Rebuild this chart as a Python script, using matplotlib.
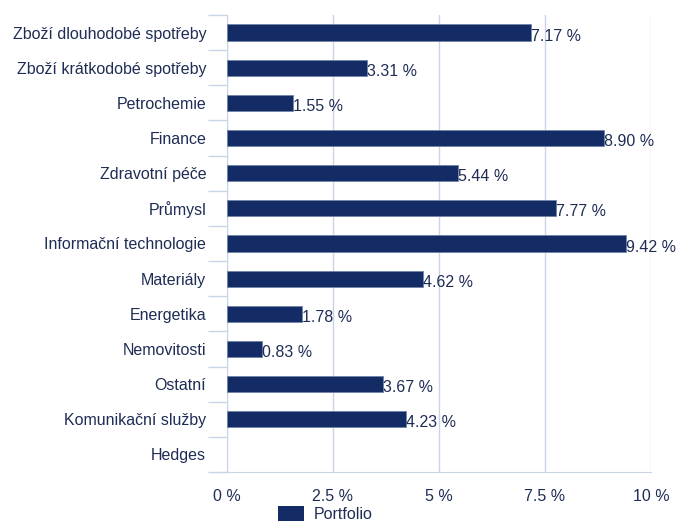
import matplotlib
matplotlib.use("Agg")
import matplotlib.pyplot as plt
from matplotlib.patches import Patch

plt.rcParams['font.family'] = ['Liberation Sans', 'DejaVu Sans']

# ── Data ─────────────────────────────────────────────────────────────
SECTORS = [
    "Zboží dlouhodobé spotřeby",
    "Zboží krátkodobé spotřeby",
    "Petrochemie",
    "Finance",
    "Zdravotní péče",
    "Průmysl",
    "Informační technologie",
    "Materiály",
    "Energetika",
    "Nemovitosti",
    "Ostatní",
    "Komunikační služby",
    "Hedges",
]
WEIGHTS = [7.17, 3.31, 1.55, 8.90, 5.44, 7.77, 9.42, 4.62, 1.78, 0.83, 3.67, 4.23, None]
X_TICKS = [0, 2.5, 5, 7.5, 10]
X_TICK_LABELS = ["0 %", "2.5 %", "5 %", "7.5 %", "10 %"]

BAR_COLOR = "#142c66"
TEXT_COLOR = "#1f2d55"
GRID_COLOR = "#c9d5e7"
FS = 11.5

fig = plt.figure(figsize=(6.78, 5.25), dpi=100)
ax = fig.add_axes([227/678, 1 - 472/525, (651 - 227)/678, (472 - 15)/525])

n = len(SECTORS)
ys = list(range(n))
for y, v in zip(ys, WEIGHTS):
    if v is None:
        continue
    ax.barh(y, v, height=0.46, color=BAR_COLOR, edgecolor="#6f84a8",
            linewidth=0.6, zorder=3)
    ax.text(v, y + 0.1, f"{v:.2f} %", ha="left", va="center",
            fontsize=FS, color=TEXT_COLOR, zorder=4)

ax.set_ylim(n - 0.5, -0.5)
ax.set_xlim(0, 10)
ax.set_yticks(ys)
ax.set_yticklabels(SECTORS, fontsize=FS, color=TEXT_COLOR)
ax.set_yticks([i - 0.5 for i in range(n + 1)], minor=True)
ax.tick_params(axis="y", which="major", length=0, pad=15)
ax.tick_params(axis="y", which="minor", length=14, color=GRID_COLOR, width=1)

ax.set_xticks(X_TICKS)
ax.set_xticklabels(X_TICK_LABELS, fontsize=FS, color=TEXT_COLOR)
ax.tick_params(axis="x", length=0, pad=12)

ax.grid(axis="x", color=GRID_COLOR, lw=1, zorder=0)
for side in ["top", "right"]:
    ax.spines[side].set_visible(False)
ax.spines["left"].set_color(GRID_COLOR)
ax.spines["bottom"].set_color(GRID_COLOR)
ax.spines["bottom"].set_bounds(-0.33, 10)
ax.spines["bottom"].set_clip_on(False)

fig.legend(handles=[Patch(facecolor=BAR_COLOR, label="Portfolio")],
           loc="lower center", bbox_to_anchor=(0.48, -0.022), frameon=False,
           fontsize=FS, labelcolor=TEXT_COLOR, handlelength=1.6,
           handleheight=1.1, handletextpad=0.6)

fig.savefig("out.png", dpi=100, facecolor="white")
